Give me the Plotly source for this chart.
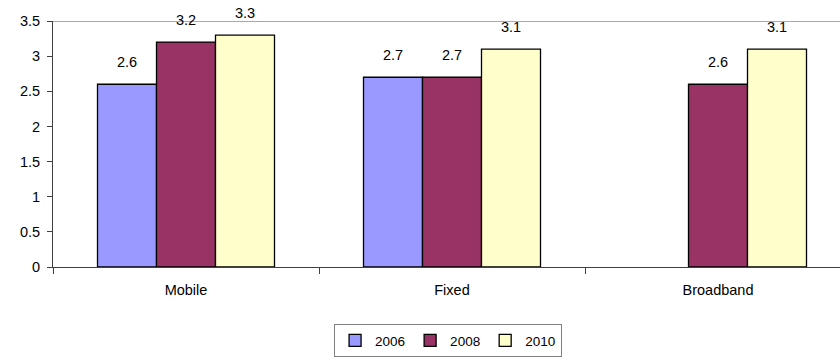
import plotly.graph_objects as go

# Survey scores by service type and year
categories = ["Mobile", "Fixed", "Broadband"]
years = ["2006", "2008", "2010"]
scores_2006 = [2.6, 2.7, None]
scores_2008 = [3.2, 2.7, 2.6]
scores_2010 = [3.3, 3.1, 3.1]
series_values = [scores_2006, scores_2008, scores_2010]
series_colors = ["#9999FF", "#993366", "#FFFFCC"]
y_ticks = [0, 0.5, 1, 1.5, 2, 2.5, 3, 3.5]

W, H = 840, 360
M_L, M_R, M_T, M_B = 53, 0, 21, 93
CAT_PX = 266          # width of one category slot in pixels
BARGAP = 0.3346

plot_w = W - M_L - M_R
x_hi = -0.5 + plot_w / CAT_PX
bar_px = CAT_PX * (1 - BARGAP) / len(years)

font_family = "Liberation Sans, Arial, sans-serif"

fig = go.Figure()
for name, vals, color in zip(years, series_values, series_colors):
    fig.add_trace(go.Bar(
        x=categories, y=vals, name=name,
        marker=dict(color=color, line=dict(color="#000000", width=1.3)),
    ))

# value labels above each bar
annotations = []
for i, vals in enumerate(series_values):
    shift = (i - (len(years) - 1) / 2) * bar_px
    for cat, v in zip(categories, vals):
        if v is None:
            continue
        annotations.append(dict(
            x=cat, y=v, xref="x", yref="y", text=f"{v:g}",
            showarrow=False, xshift=shift, yshift=22,
            font=dict(family=font_family, size=14.5, color="#000000"),
        ))

fig.update_layout(
    width=W, height=H,
    margin=dict(l=M_L, r=M_R, t=M_T, b=M_B, pad=0, autoexpand=False),
    paper_bgcolor="white", plot_bgcolor="white",
    barmode="group", bargap=BARGAP, bargroupgap=0,
    font=dict(family=font_family, size=14.5, color="#000000"),
    annotations=annotations,
    showlegend=True,
    legend=dict(
        orientation="h", x=0.502, xanchor="center", y=-0.232, yanchor="top",
        bordercolor="#808080", borderwidth=1,
        font=dict(family=font_family, size=13.5, color="#000000"),
        itemclick=False, itemdoubleclick=False,
        tracegroupgap=0,
    ),
    shapes=[dict(type="line", xref="paper", yref="y", x0=0, x1=1, y0=3.5, y1=3.5,
                 line=dict(color="#8c8c8c", width=1.5))],
)

fig.update_xaxes(
    range=[-0.5, x_hi], showgrid=False, zeroline=False,
    showline=True, linecolor="#404040", linewidth=1,
    ticks="outside", tickson="boundaries", ticklen=6, tickcolor="#404040",
    ticklabelstandoff=10,
    tickfont=dict(family=font_family, size=14.5, color="#000000"),
)
fig.update_yaxes(
    range=[0, 3.5], tickvals=y_ticks, ticktext=[f"{t:g}" for t in y_ticks],
    showgrid=False, zeroline=False,
    showline=True, linecolor="#404040", linewidth=1,
    ticks="outside", ticklen=5, tickcolor="#404040",
    ticklabelstandoff=4,
    tickfont=dict(family=font_family, size=14.5, color="#000000"),
)

fig.write_html("out.html", config={"displayModeBar": False})
